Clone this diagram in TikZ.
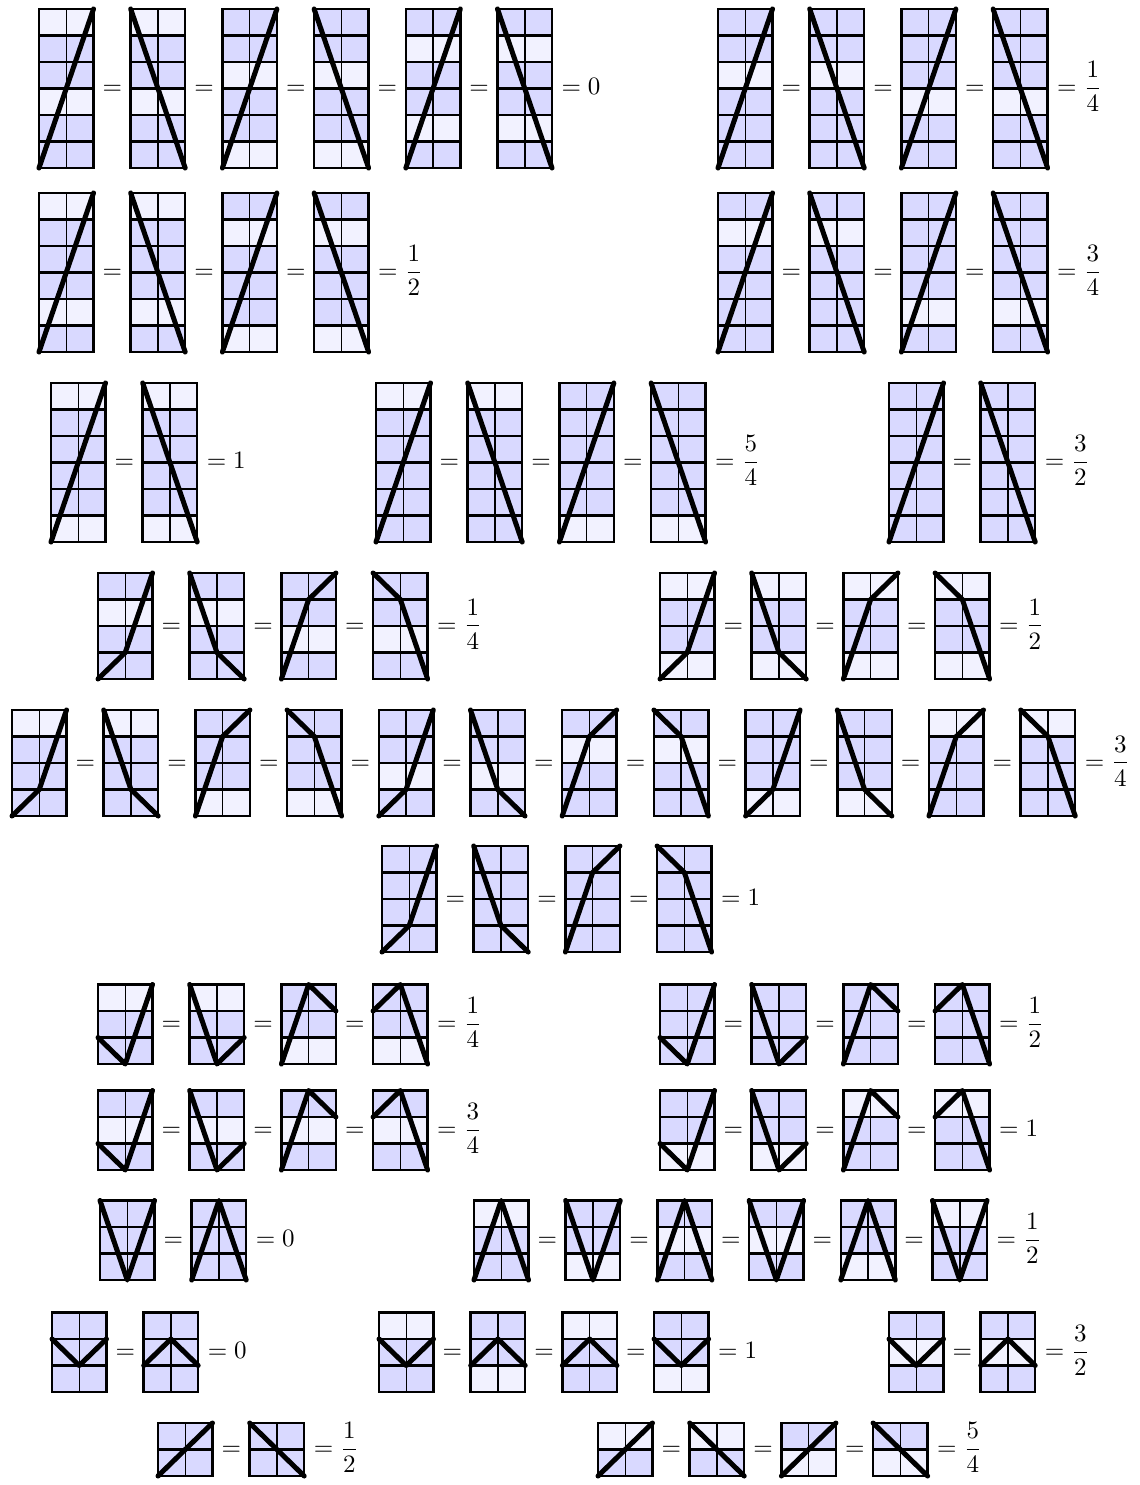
\documentclass[tikz,border=0pt]{standalone}
\usepackage{amsmath}
\usepackage{tikz}
\colorlet{dk}{blue!15}
\colorlet{lt}{blue!5}
% one 2-column tile: left, bottom, rows, fills (top first), line
\newcommand{\tile}[5]{%
  \begin{scope}[shift={(#1,#2)}, x=10.9pt, y=10.6pt]
    \foreach \f [count=\r] in {#4}
      \fill[fill=\f] (0,#3-\r) rectangle (2,#3-\r+1);
    \draw[midline] (1,0) -- (1,#3);
    \foreach \r in {1,...,#3} \draw[rowline] (0,\r) -- (2,\r);
    \draw[rowline] (0,0) rectangle (2,#3);
    \draw[zline] #5;
  \end{scope}}
% equal signs of one group: name, first left, middle y, tiles, value
\newcommand{\eqrow}[5]{%
  \pgfmathtruncatemacro{\nlast}{#4-1}
  \foreach \i in {1,...,\nlast}
    \node[eqsign] (#1-\i) at ({#2+\i*91.7-18.35},{#3+6}) {$=$};
  \node[eqsign, anchor=base west] (#1-v) at ({#2+\nlast*91.7+63.6},{#3+6}) {$=#5$};}

\begin{document}
\begin{tikzpicture}[
  x=0.4pt, y=-0.4pt,
  midline/.style={line width=0.6pt},
  rowline/.style={line width=1pt},
  zline/.style={line width=2pt, line cap=round, line join=round},
  eqsign/.style={inner sep=0pt, anchor=base}]
\useasboundingbox (0,0) rectangle (1139,1485);

% row 1
\tile{39}{168}{6}{lt,dk,dk,lt,dk,dk}{(0,0) -- (2,6)}
\tile{130.7}{168}{6}{lt,dk,dk,lt,dk,dk}{(0,6) -- (2,0)}
\tile{222.4}{168}{6}{dk,dk,lt,dk,dk,lt}{(0,0) -- (2,6)}
\tile{314.1}{168}{6}{dk,dk,lt,dk,dk,lt}{(0,6) -- (2,0)}
\tile{405.8}{168}{6}{dk,lt,dk,dk,lt,dk}{(0,0) -- (2,6)}
\tile{497.5}{168}{6}{dk,lt,dk,dk,lt,dk}{(0,6) -- (2,0)}
\eqrow{a}{39}{88.5}{6}{0}
\tile{718}{168}{6}{dk,dk,lt,dk,dk,dk}{(0,0) -- (2,6)}
\tile{809.7}{168}{6}{dk,dk,lt,dk,dk,dk}{(0,6) -- (2,0)}
\tile{901.4}{168}{6}{dk,dk,dk,lt,dk,dk}{(0,0) -- (2,6)}
\tile{993.1}{168}{6}{dk,dk,dk,lt,dk,dk}{(0,6) -- (2,0)}
\eqrow{b}{718}{88.5}{4}{\dfrac14}

% row 2
\tile{39}{352}{6}{lt,dk,dk,dk,lt,dk}{(0,0) -- (2,6)}
\tile{130.7}{352}{6}{lt,dk,dk,dk,lt,dk}{(0,6) -- (2,0)}
\tile{222.4}{352}{6}{dk,lt,dk,dk,dk,lt}{(0,0) -- (2,6)}
\tile{314.1}{352}{6}{dk,lt,dk,dk,dk,lt}{(0,6) -- (2,0)}
\eqrow{c}{39}{272.5}{4}{\dfrac12}
\tile{718}{352}{6}{dk,lt,dk,dk,dk,dk}{(0,0) -- (2,6)}
\tile{809.7}{352}{6}{dk,lt,dk,dk,dk,dk}{(0,6) -- (2,0)}
\tile{901.4}{352}{6}{dk,dk,dk,dk,lt,dk}{(0,0) -- (2,6)}
\tile{993.1}{352}{6}{dk,dk,dk,dk,lt,dk}{(0,6) -- (2,0)}
\eqrow{d}{718}{272.5}{4}{\dfrac34}

% row 3
\tile{51}{542}{6}{lt,dk,dk,dk,dk,lt}{(0,0) -- (2,6)}
\tile{142.7}{542}{6}{lt,dk,dk,dk,dk,lt}{(0,6) -- (2,0)}
\eqrow{e}{51}{462.5}{2}{1}
\tile{376}{542}{6}{lt,dk,dk,dk,dk,dk}{(0,0) -- (2,6)}
\tile{467.7}{542}{6}{lt,dk,dk,dk,dk,dk}{(0,6) -- (2,0)}
\tile{559.4}{542}{6}{dk,dk,dk,dk,dk,lt}{(0,0) -- (2,6)}
\tile{651.1}{542}{6}{dk,dk,dk,dk,dk,lt}{(0,6) -- (2,0)}
\eqrow{f}{376}{462.5}{4}{\dfrac54}
\tile{889}{542}{6}{dk,dk,dk,dk,dk,dk}{(0,0) -- (2,6)}
\tile{980.7}{542}{6}{dk,dk,dk,dk,dk,dk}{(0,6) -- (2,0)}
\eqrow{g}{889}{462.5}{2}{\dfrac32}

% row 4
\tile{98}{679}{4}{dk,lt,dk,dk}{(0,0) -- (1,1) -- (2,4)}
\tile{189.7}{679}{4}{dk,lt,dk,dk}{(0,4) -- (1,1) -- (2,0)}
\tile{281.4}{679}{4}{dk,dk,lt,dk}{(0,0) -- (1,3) -- (2,4)}
\tile{373.1}{679}{4}{dk,dk,lt,dk}{(0,4) -- (1,3) -- (2,0)}
\eqrow{h}{98}{626}{4}{\dfrac14}
\tile{660}{679}{4}{lt,dk,dk,lt}{(0,0) -- (1,1) -- (2,4)}
\tile{751.7}{679}{4}{lt,dk,dk,lt}{(0,4) -- (1,1) -- (2,0)}
\tile{843.4}{679}{4}{lt,dk,dk,lt}{(0,0) -- (1,3) -- (2,4)}
\tile{935.1}{679}{4}{lt,dk,dk,lt}{(0,4) -- (1,3) -- (2,0)}
\eqrow{i}{660}{626}{4}{\dfrac12}

% row 5
\tile{12}{816}{4}{lt,dk,dk,dk}{(0,0) -- (1,1) -- (2,4)}
\tile{103.7}{816}{4}{lt,dk,dk,dk}{(0,4) -- (1,1) -- (2,0)}
\tile{195.4}{816}{4}{dk,dk,dk,lt}{(0,0) -- (1,3) -- (2,4)}
\tile{287.1}{816}{4}{dk,dk,dk,lt}{(0,4) -- (1,3) -- (2,0)}
\tile{378.8}{816}{4}{dk,dk,lt,dk}{(0,0) -- (1,1) -- (2,4)}
\tile{470.5}{816}{4}{dk,dk,lt,dk}{(0,4) -- (1,1) -- (2,0)}
\tile{562.2}{816}{4}{dk,lt,dk,dk}{(0,0) -- (1,3) -- (2,4)}
\tile{653.9}{816}{4}{dk,lt,dk,dk}{(0,4) -- (1,3) -- (2,0)}
\tile{745.6}{816}{4}{dk,dk,dk,lt}{(0,0) -- (1,1) -- (2,4)}
\tile{837.3}{816}{4}{dk,dk,dk,lt}{(0,4) -- (1,1) -- (2,0)}
\tile{929}{816}{4}{lt,dk,dk,dk}{(0,0) -- (1,3) -- (2,4)}
\tile{1020.7}{816}{4}{lt,dk,dk,dk}{(0,4) -- (1,3) -- (2,0)}
\eqrow{j}{12}{763}{12}{\dfrac34}

% row 6
\tile{382}{952}{4}{dk,dk,dk,dk}{(0,0) -- (1,1) -- (2,4)}
\tile{473.7}{952}{4}{dk,dk,dk,dk}{(0,4) -- (1,1) -- (2,0)}
\tile{565.4}{952}{4}{dk,dk,dk,dk}{(0,0) -- (1,3) -- (2,4)}
\tile{657.1}{952}{4}{dk,dk,dk,dk}{(0,4) -- (1,3) -- (2,0)}
\eqrow{k}{382}{899}{4}{1}

% row 7
\tile{98}{1064}{3}{lt,dk,dk}{(0,1) -- (1,0) -- (2,3)}
\tile{189.7}{1064}{3}{lt,dk,dk}{(0,3) -- (1,0) -- (2,1)}
\tile{281.4}{1064}{3}{dk,dk,lt}{(0,0) -- (1,3) -- (2,2)}
\tile{373.1}{1064}{3}{dk,dk,lt}{(0,2) -- (1,3) -- (2,0)}
\eqrow{l}{98}{1024.25}{4}{\dfrac14}
\tile{660}{1064}{3}{dk,dk,dk}{(0,1) -- (1,0) -- (2,3)}
\tile{751.7}{1064}{3}{dk,dk,dk}{(0,3) -- (1,0) -- (2,1)}
\tile{843.4}{1064}{3}{dk,dk,dk}{(0,0) -- (1,3) -- (2,2)}
\tile{935.1}{1064}{3}{dk,dk,dk}{(0,2) -- (1,3) -- (2,0)}
\eqrow{m}{660}{1024.25}{4}{\dfrac12}

% row 8
\tile{98}{1170}{3}{dk,lt,dk}{(0,1) -- (1,0) -- (2,3)}
\tile{189.7}{1170}{3}{dk,lt,dk}{(0,3) -- (1,0) -- (2,1)}
\tile{281.4}{1170}{3}{dk,lt,dk}{(0,0) -- (1,3) -- (2,2)}
\tile{373.1}{1170}{3}{dk,lt,dk}{(0,2) -- (1,3) -- (2,0)}
\eqrow{n}{98}{1130.25}{4}{\dfrac34}
\tile{660}{1170}{3}{dk,dk,lt}{(0,1) -- (1,0) -- (2,3)}
\tile{751.7}{1170}{3}{dk,dk,lt}{(0,3) -- (1,0) -- (2,1)}
\tile{843.4}{1170}{3}{lt,dk,dk}{(0,0) -- (1,3) -- (2,2)}
\tile{935.1}{1170}{3}{lt,dk,dk}{(0,2) -- (1,3) -- (2,0)}
\eqrow{o}{660}{1130.25}{4}{1}

% row 9
\tile{100}{1280}{3}{dk,dk,dk}{(0,3) -- (1,0) -- (2,3)}
\tile{191.7}{1280}{3}{dk,dk,dk}{(0,0) -- (1,3) -- (2,0)}
\eqrow{p}{100}{1240.25}{2}{0}
\tile{474}{1280}{3}{lt,dk,dk}{(0,0) -- (1,3) -- (2,0)}
\tile{565.7}{1280}{3}{dk,dk,lt}{(0,3) -- (1,0) -- (2,3)}
\tile{657.4}{1280}{3}{dk,lt,dk}{(0,0) -- (1,3) -- (2,0)}
\tile{749.1}{1280}{3}{dk,lt,dk}{(0,3) -- (1,0) -- (2,3)}
\tile{840.8}{1280}{3}{dk,dk,lt}{(0,0) -- (1,3) -- (2,0)}
\tile{932.5}{1280}{3}{lt,dk,dk}{(0,3) -- (1,0) -- (2,3)}
\eqrow{q}{474}{1240.25}{6}{\dfrac12}

% row 10
\tile{52}{1392}{3}{dk,dk,dk}{(0,2) -- (1,1) -- (2,2)}
\tile{143.7}{1392}{3}{dk,dk,dk}{(0,1) -- (1,2) -- (2,1)}
\eqrow{r}{52}{1352.25}{2}{0}
\tile{379}{1392}{3}{lt,dk,dk}{(0,2) -- (1,1) -- (2,2)}
\tile{470.7}{1392}{3}{dk,dk,lt}{(0,1) -- (1,2) -- (2,1)}
\tile{562.4}{1392}{3}{lt,dk,dk}{(0,1) -- (1,2) -- (2,1)}
\tile{654.1}{1392}{3}{dk,dk,lt}{(0,2) -- (1,1) -- (2,2)}
\eqrow{s}{379}{1352.25}{4}{1}
\tile{889}{1392}{3}{dk,lt,dk}{(0,2) -- (1,1) -- (2,2)}
\tile{980.7}{1392}{3}{dk,lt,dk}{(0,1) -- (1,2) -- (2,1)}
\eqrow{t}{889}{1352.25}{2}{\dfrac32}

% row 11
\tile{158}{1476}{2}{dk,dk}{(0,0) -- (2,2)}
\tile{249.7}{1476}{2}{dk,dk}{(0,2) -- (2,0)}
\eqrow{u}{158}{1449.5}{2}{\dfrac12}
\tile{598}{1476}{2}{lt,dk}{(0,0) -- (2,2)}
\tile{689.7}{1476}{2}{lt,dk}{(0,2) -- (2,0)}
\tile{781.4}{1476}{2}{dk,lt}{(0,0) -- (2,2)}
\tile{873.1}{1476}{2}{dk,lt}{(0,2) -- (2,0)}
\eqrow{v}{598}{1449.5}{4}{\dfrac54}
\end{tikzpicture}
\end{document}
